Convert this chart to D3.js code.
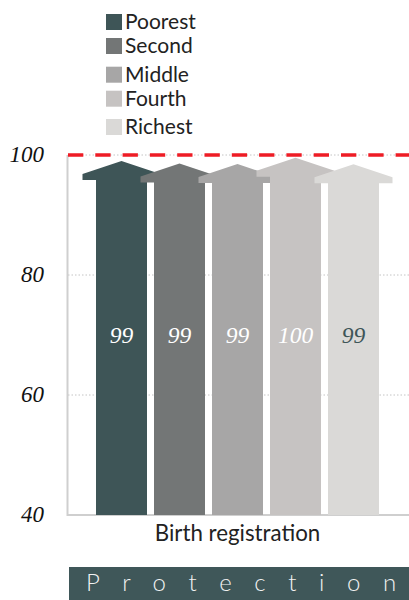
<!DOCTYPE html>
<html><head><meta charset="utf-8">
<script src="https://cdn.jsdelivr.net/npm/d3@7"></script>
<style>body{margin:0;background:#fff}svg{display:block}</style>
</head><body>
<script>
const series = ["Poorest","Second","Middle","Fourth","Richest"];
const values = [99.0, 98.6, 98.5, 99.55, 98.45];
const valueLabels = ["99","99","99","100","99"];
const colors = ["#3e5557","#737676","#a7a6a6","#c6c3c2","#dad9d7"];
const labelColors = ["#ffffff","#ffffff","#ffffff","#ffffff","#3e5557"];
const category = "Birth registration";
const yTicks = [40,60,80,100];
const target = 100;
const section = "Protection";

const W=409,H=600;
const svg=d3.select("body").append("svg").attr("width",W).attr("height",H);
const y=d3.scaleLinear().domain([40,100]).range([515,155]);
const x=d3.scaleBand().domain(series).range([96,379]).paddingInner(0.1207).paddingOuter(0);
const bw=x.bandwidth();

// gridlines
svg.append("g").selectAll("line").data(yTicks.filter(t=>t>40)).join("line")
  .attr("x1",68).attr("x2",W).attr("y1",d=>y(d)).attr("y2",d=>y(d))
  .attr("stroke","#c4c4c4").attr("stroke-width",1).attr("stroke-dasharray","1.5,2");

// axes lines
svg.append("line").attr("x1",67.5).attr("x2",67.5).attr("y1",y(100)).attr("y2",y(40)+1)
  .attr("stroke","#cfcfcf").attr("stroke-width",2);
svg.append("line").attr("x1",67).attr("x2",W).attr("y1",y(40)).attr("y2",y(40))
  .attr("stroke","#cfcfcf").attr("stroke-width",2);

// target line
svg.append("line").attr("x1",68).attr("x2",W).attr("y1",y(target)).attr("y2",y(target))
  .attr("stroke","#ee1c25").attr("stroke-width",3.3).attr("stroke-dasharray","15.3,12");

// arrows
const over=13.5, headH=19, slopeH=13;
svg.append("g").selectAll("path").data(series).join("path")
  .attr("fill",(d,i)=>colors[i])
  .attr("d",(d,i)=>{
    const x0=x(d), x1=x0+bw, cx=x0+bw/2, top=y(values[i]), base=y(40);
    const hb=top+headH, sh=top+slopeH;
    return `M${x0},${base}L${x0},${hb}L${x0-over},${hb}L${x0-over},${sh}L${cx},${top}L${x1+over},${sh}L${x1+over},${hb}L${x1},${hb}L${x1},${base}Z`;
  });

// value labels
svg.append("g").selectAll("text").data(series).join("text")
  .attr("x",d=>x(d)+bw/2).attr("y",343)
  .attr("text-anchor","middle")
  .attr("font-family","Liberation Serif, serif").attr("font-style","italic").attr("font-size",23.5)
  .attr("fill",(d,i)=>labelColors[i]).text((d,i)=>valueLabels[i]);

// y tick labels
svg.append("g").selectAll("text").data(yTicks).join("text")
  .attr("x",44).attr("y",d=>y(d)+7)
  .attr("text-anchor","end")
  .attr("font-family","Liberation Serif, serif").attr("font-style","italic").attr("font-size",23)
  .attr("fill","#111").text(d=>d);

// category label
svg.append("text").attr("x",(x(series[0])+x(series[4])+bw)/2).attr("y",541)
  .attr("text-anchor","middle").attr("font-family","Lato, sans-serif").attr("font-size",22.3)
  .attr("fill","#222").text(category);

// legend
const legY=[14,38,66.7,90.7,119];
const lg=svg.append("g").selectAll("g").data(series).join("g")
  .attr("transform",(d,i)=>`translate(106,${legY[i]})`);
lg.append("rect").attr("width",16).attr("height",16).attr("fill",(d,i)=>colors[i]);
lg.append("text").attr("x",19).attr("y",14.8).attr("font-family","Lato, sans-serif")
  .attr("font-size",21).attr("fill","#222").text(d=>d);

// bottom band
svg.append("rect").attr("x",69).attr("y",567).attr("width",W-69).attr("height",33).attr("fill","#3f5759");
const st=svg.append("text").attr("x",86).attr("y",591).attr("font-family","Lato, sans-serif").attr("font-weight",300)
  .attr("font-size",24).attr("fill","#f2f2f2").attr("letter-spacing",22.6).text(section);
// convert letter-spacing to explicit per-glyph positions so no trailing space
const node=st.node();
const xs=[];
for(let i=0;i<section.length;i++){ xs.push(node.getStartPositionOfChar(i).x.toFixed(1)); }
st.attr("letter-spacing",null).attr("x",xs.join(" "));
</script>
</body></html>
